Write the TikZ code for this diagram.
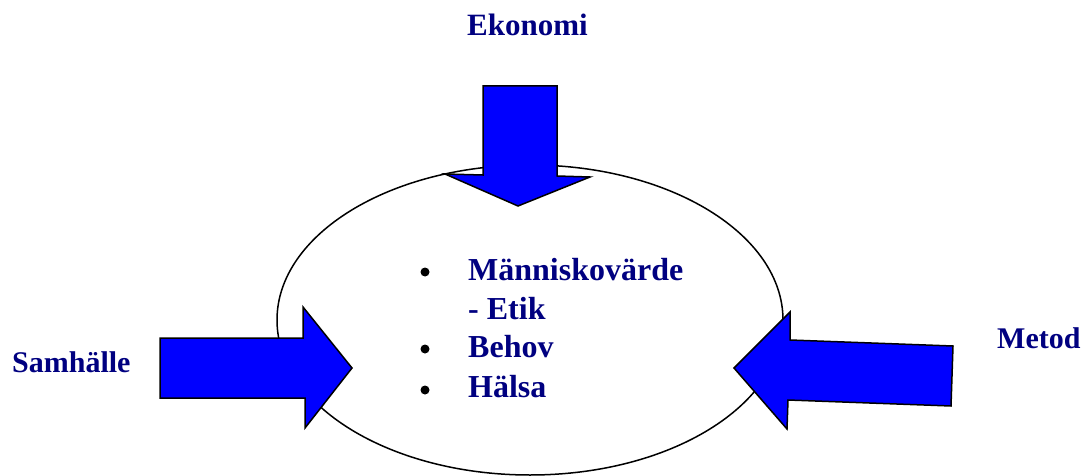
\documentclass[tikz,border=0pt]{standalone}
\usepackage{fontspec}
\setmainfont{Liberation Serif}
\usetikzlibrary{shapes.geometric}
\definecolor{navytext}{RGB}{0,0,128}
\definecolor{arrowblue}{RGB}{0,0,255}
\tikzset{
  lbl/.style={anchor=base west, inner sep=0pt, text=navytext, font=\fontsize{30}{36}\selectfont\bfseries},
  item/.style={anchor=base west, inner sep=0pt, text=navytext, font=\fontsize{32}{38}\selectfont\bfseries},
  bul/.style={circle, fill=black, inner sep=0pt, minimum size=9pt},
  bigarrow/.style={fill=arrowblue, draw=black, line width=1.5pt, line join=miter},
  ring/.style={draw=black, line width=1.5pt, ellipse, fill=white, minimum width=506pt, minimum height=310pt, inner sep=0pt}
}
\begin{document}
\begin{tikzpicture}[x=1pt,y=-1pt]
\useasboundingbox (0,0) rectangle (1087,476);
\node[ring] (circle) at (530,320) {};
% labels
\node[lbl, font=\fontsize{31}{36}\selectfont\bfseries] (ekonomi) at (467,36) {Ekonomi};
\node[lbl] (samhalle) at (12,372) {Samhälle};
\node[lbl] (metod) at (997,348) {Metod};
% list
\node[item] (t1) at (468,280) {Människovärde};
\node[item] (t2) at (468,319) {- Etik};
\node[item] (t3) at (468,357) {Behov};
\node[item] (t4) at (468,397) {Hälsa};
\node[bul] (b1) at (425,272) {};
\node[bul] (b3) at (425,349) {};
\node[bul] (b4) at (425,390) {};
% arrows
\draw[bigarrow] (483,86) -- (557,86) -- (557,176) -- (590,177) -- (518,206) -- (445,174) -- (483,175) -- cycle;
\draw[bigarrow] (160,338) -- (303,338) -- (303,307) -- (352,368) -- (305,428) -- (305,398) -- (160,398) -- cycle;
\draw[bigarrow] (953,346) -- (951,406) -- (788,400) -- (787,429) -- (734,368) -- (790,312) -- (790,340) -- cycle;
\end{tikzpicture}
\end{document}
